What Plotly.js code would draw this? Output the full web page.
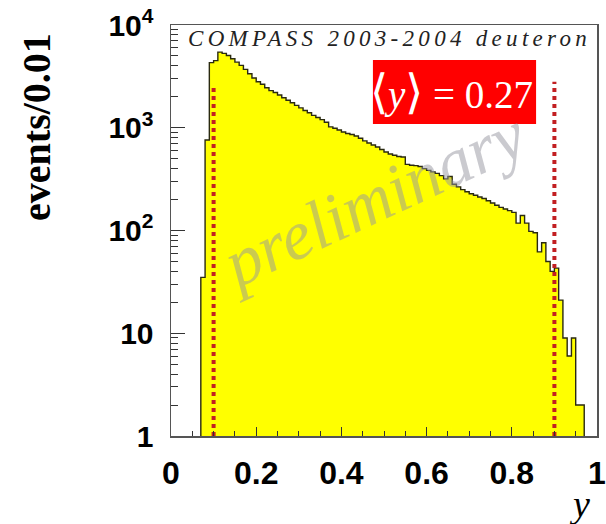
<!DOCTYPE html>
<html>
<head>
<meta charset="utf-8">
<script src="https://cdn.plot.ly/plotly-3.0.1.min.js"></script>
<style>
  html, body { margin: 0; padding: 0; background: #fff; }
  #chart { width: 606px; height: 524px; }
</style>
</head>
<body>
<div id="chart"></div>
<script>
// Histogram of y, bins of width 0.01 starting at y = 0.07
const binStart = 0.07;
const binWidth = 0.01;
const counts = [
  35, 760, 4300, 4500, 5450, 5300, 5050, 4700, 4350, 4050,
  3700, 3350, 3050, 2800, 2650, 2450, 2300, 2200, 2080, 1960,
  1850, 1750, 1650, 1560, 1470, 1400, 1320, 1260, 1200, 1130,
  1020, 990, 950, 910, 880, 860, 830, 790, 745, 710,
  680, 650, 615, 580, 555, 540, 525, 520, 440, 432,
  428, 420, 400, 385, 372, 360, 342, 318, 335, 282,
  266, 250, 238, 228, 220, 212, 205, 195, 185, 176,
  168, 162, 156, 150, 118, 140, 118, 98, 95, 62,
  76, 50, 40, 43, 21, 9, 6, 9, 2, 2
];

// Kinematic cuts
const cutX = [0.1, 0.9];
const cutTop = [2500, 2800];

// Axis ticks
const xTickVals = [0, 0.2, 0.4, 0.6, 0.8, 1];
const xTickText = ['0', '0.2', '0.4', '0.6', '0.8', '1'];
const yTickVals = [1, 10, 100, 1000, 10000];
const yTickText = ['1', '10', '10<sup>2</sup>', '10<sup>3</sup>', '10<sup>4</sup>'];

const meanY = 0.27;

// Step outline: bin edges, closed down to the axis floor
const edges = counts.map((_, i) => +(binStart + i * binWidth).toFixed(2));
const lastEdge = +(binStart + counts.length * binWidth).toFixed(2);
const stepX = [binStart].concat(edges, [lastEdge]);
const stepY = [1].concat(counts, [1]);

// Minor log ticks 2..9 in each decade
const yMinor = [];
for (let d = 1; d < 10000; d *= 10) {
  for (let k = 2; k <= 9; k++) yMinor.push(k * d);
}

const traces = [
  {
    type: 'scatter', mode: 'lines',
    x: stepX, y: stepY,
    line: { shape: 'hv', color: '#2a2a10', width: 1.4 },
    fill: 'toself', fillcolor: '#ffff00',
    hoverinfo: 'skip'
  }
];
cutX.forEach((cx, i) => {
  traces.push({
    type: 'scatter', mode: 'lines',
    x: [cx, cx], y: [1, cutTop[i]],
    line: { color: '#c21f22', width: 4, dash: '4px,4px' },
    hoverinfo: 'skip'
  });
});

const serif = 'Liberation Serif, Times New Roman, serif';
const sans = 'Liberation Sans, Arial, sans-serif';

const layout = {
  width: 606, height: 524,
  margin: { l: 171, r: 9, t: 25, b: 88 },
  paper_bgcolor: '#ffffff',
  plot_bgcolor: '#ffffff',
  showlegend: false,
  xaxis: {
    range: [0, 1],
    tickmode: 'array', tickvals: xTickVals, ticktext: xTickText,
    ticks: 'inside', ticklen: 9, tickwidth: 1, tickcolor: '#333',
    minor: { ticks: 'inside', dtick: 0.05, tick0: 0, ticklen: 5, tickcolor: '#333', showgrid: false },
    showgrid: false, zeroline: false,
    showline: true, linecolor: '#555', linewidth: 1.5, mirror: true,
    tickfont: { family: sans, size: 32, color: '#000', weight: 'bold' },
    ticklabelstandoff: 8
  },
  yaxis: {
    type: 'log', range: [0, 4],
    tickmode: 'array', tickvals: yTickVals, ticktext: yTickText,
    ticks: 'inside', ticklen: 14, tickwidth: 1, tickcolor: '#333',
    minor: { ticks: 'inside', tickmode: 'array', tickvals: yMinor, ticklen: 7, tickcolor: '#333', showgrid: false },
    showgrid: false, zeroline: false,
    showline: true, linecolor: '#555', linewidth: 1.5, mirror: true,
    tickfont: { family: sans, size: 30, color: '#000', weight: 'bold' },
    ticklabelstandoff: 10
  },
  shapes: [
    {
      type: 'rect', xref: 'paper', yref: 'paper',
      x0: 0.474, x1: 0.857, y0: 0.759, y1: 0.915,
      fillcolor: '#ff0000', line: { width: 0 }, layer: 'above'
    }
  ],
  annotations: [
    {
      xref: 'paper', yref: 'paper', x: 0.472, y: 0.575,
      text: 'preliminary', showarrow: false, textangle: -25,
      font: { family: serif, size: 69, style: 'italic', color: 'rgba(150,150,160,0.5)' }
    },
    {
      xref: 'paper', yref: 'paper', x: 0.514, y: 0.968,
      xanchor: 'center', yanchor: 'middle',
      text: '<span style="letter-spacing:4.3px">COMPASS 2003-2004 deuteron</span>',
      showarrow: false,
      font: { family: serif, size: 23, style: 'italic', color: '#222' }
    },
    {
      xref: 'paper', yref: 'paper', x: 0.659, y: 0.837,
      xanchor: 'center', yanchor: 'middle',
      text: '<span style="font-size:47px">⟨</span><i>y</i><span style="font-size:47px">⟩</span> = ' + meanY.toFixed(2),
      showarrow: false,
      font: { family: serif, size: 39, color: '#ffffff' }
    },
    {
      xref: 'paper', yref: 'paper', x: -0.3146, y: 0.752,
      xanchor: 'center', yanchor: 'middle',
      text: 'events/0.01', textangle: -90, showarrow: false,
      font: { family: serif, size: 40, color: '#000', weight: 'bold' }
    },
    {
      xref: 'paper', yref: 'paper', x: 0.958, y: -0.165,
      xanchor: 'center', yanchor: 'middle',
      text: '<i>y</i>', showarrow: false,
      font: { family: serif, size: 38, color: '#000' }
    }
  ]
};

Plotly.newPlot('chart', traces, layout, { staticPlot: true, displayModeBar: false });
</script>
</body>
</html>
